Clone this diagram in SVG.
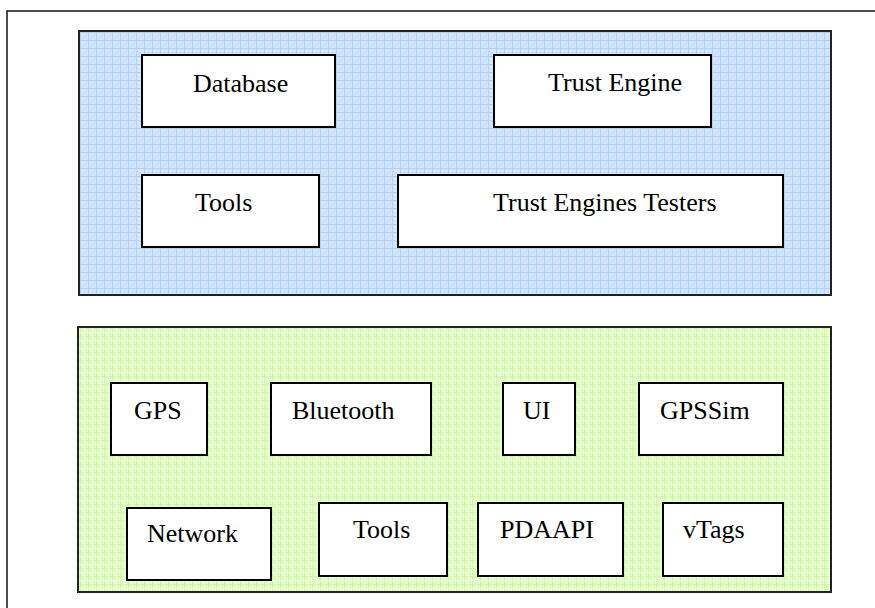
<svg xmlns="http://www.w3.org/2000/svg" width="875" height="608" viewBox="0 0 875 608">
<defs>
<pattern id="blueGrid" width="8" height="8" patternUnits="userSpaceOnUse">
<rect width="8" height="8" fill="#d2e5ff"/>
<rect x="0" y="0" width="8" height="1" fill="#b2d2fb"/>
<rect x="0" y="0" width="1" height="8" fill="#b2d2fb"/>
<rect x="4" y="4" width="1" height="1" fill="#bcd8fd"/>
<rect x="2" y="2" width="1" height="1" fill="#e2eeff"/>
<rect x="6" y="6" width="1" height="1" fill="#e2eeff"/>
</pattern>
<pattern id="greenGrid" width="8" height="8" patternUnits="userSpaceOnUse">
<rect width="8" height="8" fill="#e2fcc6"/>
<rect x="0" y="0" width="8" height="1" fill="#d0f5a8"/>
<rect x="0" y="0" width="1" height="8" fill="#d0f5a8"/>
<rect x="4" y="0" width="1" height="8" fill="#eafed6"/>
<rect x="0" y="4" width="8" height="1" fill="#eafed6"/>
</pattern>
</defs>
<style>
.frame{fill:none;stroke:#111;stroke-width:1.5}
.panel{stroke:#222;stroke-width:2}
.box{fill:#fff;stroke:#000;stroke-width:2}
.lbl{font-size:26px;fill:#000}
</style>
<rect class="frame" x="7" y="11" width="880" height="620"/>
<g id="core-panel">
<rect class="panel" x="79" y="31" width="752" height="264" fill="url(#blueGrid)"/>
</g>
<g id="device-panel">
<rect class="panel" x="78" y="327" width="753" height="265" fill="url(#greenGrid)"/>
</g>
<g font-family="'Liberation Serif', 'Times New Roman', 'DejaVu Serif', serif">
<g id="database"><rect class="box" x="142" y="55" width="193" height="72"/><text class="lbl" x="193" y="92">Database</text></g>
<g id="trust-engine"><rect class="box" x="494" y="55" width="217" height="72"/><text class="lbl" x="548" y="91">Trust Engine</text></g>
<g id="tools-top"><rect class="box" x="142" y="175" width="177" height="72"/><text class="lbl" x="195" y="211">Tools</text></g>
<g id="trust-engines-testers"><rect class="box" x="398" y="175" width="385" height="72"/><text class="lbl" x="493" y="211">Trust Engines Testers</text></g>
<g id="gps"><rect class="box" x="111" y="383" width="96" height="72"/><text class="lbl" x="134" y="419">GPS</text></g>
<g id="bluetooth"><rect class="box" x="271" y="383" width="160" height="72"/><text class="lbl" x="292" y="419">Bluetooth</text></g>
<g id="ui"><rect class="box" x="503" y="383" width="72" height="72"/><text class="lbl" x="523" y="419">UI</text></g>
<g id="gpssim"><rect class="box" x="639" y="383" width="144" height="72"/><text class="lbl" x="660" y="419">GPSSim</text></g>
<g id="network"><rect class="box" x="127" y="508" width="144" height="72"/><text class="lbl" x="147" y="542">Network</text></g>
<g id="tools-bottom"><rect class="box" x="319" y="503" width="128" height="73"/><text class="lbl" x="353" y="538">Tools</text></g>
<g id="pdaapi"><rect class="box" x="478" y="503" width="145" height="73"/><text class="lbl" x="500" y="538">PDAAPI</text></g>
<g id="vtags"><rect class="box" x="663" y="503" width="120" height="73"/><text class="lbl" x="683" y="538">vTags</text></g>
</g>
<g id="connectors"></g>
</svg>
